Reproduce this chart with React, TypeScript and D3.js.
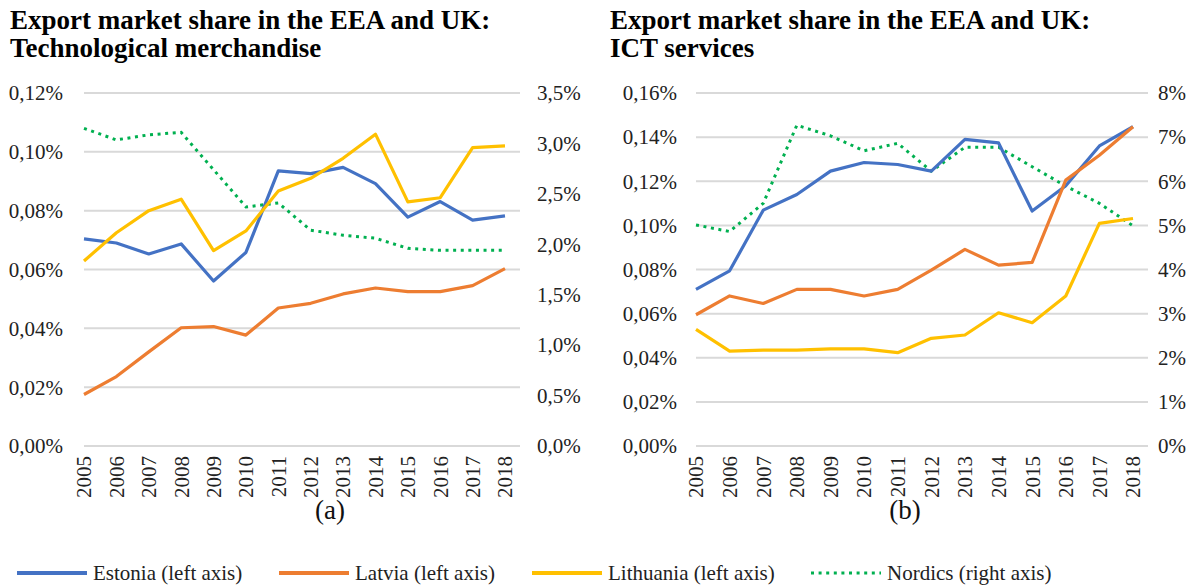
import React, { useEffect, useRef } from 'react';
import * as d3 from 'd3';

const years = ['2005', '2006', '2007', '2008', '2009', '2010', '2011', '2012', '2013', '2014', '2015', '2016', '2017', '2018'];

// (a) technological merchandise, % share
const techEstonia = [0.0704, 0.069, 0.0653, 0.0687, 0.0561, 0.0658, 0.0935, 0.0926, 0.0947, 0.0892, 0.0778, 0.0831, 0.0768, 0.0782];
const techLatvia = [0.0175, 0.0236, 0.032, 0.0402, 0.0406, 0.0377, 0.0469, 0.0485, 0.0517, 0.0537, 0.0525, 0.0525, 0.0545, 0.0603];
const techLithuania = [0.0629, 0.0725, 0.08, 0.0839, 0.0664, 0.0731, 0.0867, 0.091, 0.0978, 0.106, 0.083, 0.0844, 0.1014, 0.102];
const techNordics = [3.15, 3.035, 3.085, 3.11, 2.74, 2.37, 2.41, 2.14, 2.09, 2.06, 1.96, 1.94, 1.94, 1.94];

// (b) ICT services, % share
const ictEstonia = [0.071, 0.0794, 0.1069, 0.114, 0.1246, 0.1285, 0.1276, 0.1246, 0.139, 0.1374, 0.1065, 0.118, 0.136, 0.1447];
const ictLatvia = [0.0595, 0.068, 0.0646, 0.071, 0.071, 0.068, 0.071, 0.0797, 0.0891, 0.082, 0.0832, 0.1205, 0.1318, 0.1447];
const ictLithuania = [0.0529, 0.043, 0.0435, 0.0435, 0.044, 0.044, 0.0423, 0.0488, 0.0503, 0.0604, 0.0559, 0.068, 0.1009, 0.1031];
const ictNordics = [5.01, 4.86, 5.5, 7.27, 7.03, 6.69, 6.86, 6.23, 6.77, 6.77, 6.33, 5.89, 5.5, 4.99];

const techLeftTicks = [0, 0.02, 0.04, 0.06, 0.08, 0.1, 0.12];
const techRightTicks = [0, 0.5, 1, 1.5, 2, 2.5, 3, 3.5];
const ictLeftTicks = [0, 0.02, 0.04, 0.06, 0.08, 0.1, 0.12, 0.14, 0.16];
const ictRightTicks = [0, 1, 2, 3, 4, 5, 6, 7, 8];

const legendNames = ['Estonia (left axis)', 'Latvia (left axis)', 'Lithuania (left axis)', 'Nordics (right axis)'];
const colors = ['#4472C4', '#ED7D31', '#FFC000', '#00B050'];

const FONT = '"Liberation Serif", "Times New Roman", serif';
const DOTS = '3 4.6';

const App = () => {
  const svgRef = useRef(null);

  useEffect(() => {
    const svg = d3.select(svgRef.current);
    svg.selectAll('*').remove();

    const comma = (f) => (v) => f(v).replace('.', ',') + '%';

    const panels = [
      {
        title: ['Export market share in the EEA and UK:', 'Technological merchandise'], tx: 10,
        x0: 84, x1: 520, xEnd: 505, leftLabX: 63, rightLabX: 537,
        leftTicks: techLeftTicks, rightTicks: techRightTicks,
        leftFmt: comma(d3.format('.2f')), rightFmt: comma(d3.format('.1f')),
        series: [techEstonia, techLatvia, techLithuania], nordics: techNordics,
        sub: '(a)', subX: 330,
      },
      {
        title: ['Export market share in the EEA and UK:', 'ICT services'], tx: 610,
        x0: 696, x1: 1148, xEnd: 1133, leftLabX: 677, rightLabX: 1158,
        leftTicks: ictLeftTicks, rightTicks: ictRightTicks,
        leftFmt: comma(d3.format('.2f')), rightFmt: (v) => d3.format('d')(v) + '%',
        series: [ictEstonia, ictLatvia, ictLithuania], nordics: ictNordics,
        sub: '(b)', subX: 905,
      },
    ];

    const yTop = 93;
    const yBottom = 446;

    panels.forEach((p) => {
      const g = svg.append('g');

      // title
      p.title.forEach((t, i) => {
        g.append('text')
          .attr('x', p.tx).attr('y', 29 + i * 28)
          .attr('font-family', FONT).attr('font-size', 27).attr('font-weight', 'bold')
          .attr('fill', '#000')
          .text(t);
      });

      const x = d3.scalePoint().domain(years).range([p.x0, p.xEnd]);
      const yL = d3.scaleLinear()
        .domain([0, p.leftTicks[p.leftTicks.length - 1]])
        .range([yBottom, yTop]);
      const yR = d3.scaleLinear()
        .domain([0, p.rightTicks[p.rightTicks.length - 1]])
        .range([yBottom, yTop]);

      // gridlines
      g.selectAll('.grid')
        .data(p.leftTicks)
        .enter().append('line')
          .attr('x1', p.x0).attr('x2', p.x1)
          .attr('y1', d => yL(d)).attr('y2', d => yL(d))
          .attr('stroke', '#D9D9D9').attr('stroke-width', 2);

      // left axis labels
      g.selectAll('.ll')
        .data(p.leftTicks)
        .enter().append('text')
          .attr('x', p.leftLabX).attr('y', d => yL(d))
          .attr('dy', '0.35em').attr('text-anchor', 'end')
          .attr('font-family', FONT).attr('font-size', 21).attr('fill', '#222')
          .text(d => p.leftFmt(d));

      // right axis labels
      g.selectAll('.rl')
        .data(p.rightTicks)
        .enter().append('text')
          .attr('x', p.rightLabX).attr('y', d => yR(d))
          .attr('dy', '0.35em').attr('text-anchor', 'start')
          .attr('font-family', FONT).attr('font-size', 21).attr('fill', '#222')
          .text(d => p.rightFmt(d));

      // year labels
      g.selectAll('.yr')
        .data(years)
        .enter().append('text')
          .attr('transform', d => `translate(${x(d)},456) rotate(-90)`)
          .attr('dy', '0.35em').attr('text-anchor', 'end')
          .attr('font-family', FONT).attr('font-size', 21).attr('fill', '#222')
          .text(d => d);

      const lineL = d3.line().x((d, i) => x(years[i])).y(d => yL(d));
      const lineR = d3.line().x((d, i) => x(years[i])).y(d => yR(d));

      // nordics first (behind)
      g.append('path')
        .attr('d', lineR(p.nordics))
        .attr('fill', 'none').attr('stroke', colors[3])
        .attr('stroke-width', 3).attr('stroke-dasharray', DOTS);

      p.series.forEach((s, i) => {
        g.append('path')
          .attr('d', lineL(s))
          .attr('fill', 'none').attr('stroke', colors[i])
          .attr('stroke-width', 3.2).attr('stroke-linejoin', 'round');
      });

      g.append('text')
        .attr('x', p.subX).attr('y', 510).attr('dy', '0.35em')
        .attr('text-anchor', 'middle')
        .attr('font-family', FONT).attr('font-size', 27).attr('fill', '#111')
        .text(p.sub);
    });

    // legend
    const legendX = [17, 279, 532, 811];
    const leg = svg.append('g');
    legendNames.forEach((name, i) => {
      leg.append('line')
        .attr('x1', legendX[i]).attr('x2', legendX[i] + 70)
        .attr('y1', 573).attr('y2', 573)
        .attr('stroke', colors[i]).attr('stroke-width', i === 3 ? 3 : 4)
        .attr('stroke-dasharray', i === 3 ? DOTS : null);
      leg.append('text')
        .attr('x', legendX[i] + 76).attr('y', 573).attr('dy', '0.35em')
        .attr('font-family', FONT).attr('font-size', 21).attr('fill', '#222')
        .text(name);
    });
  }, []);

  return (
    <svg ref={svgRef} width="1200" height="586"
      style={{ position: 'absolute', left: 0, top: 0, background: '#fff' }}>
    </svg>
  );
};

export default App;
